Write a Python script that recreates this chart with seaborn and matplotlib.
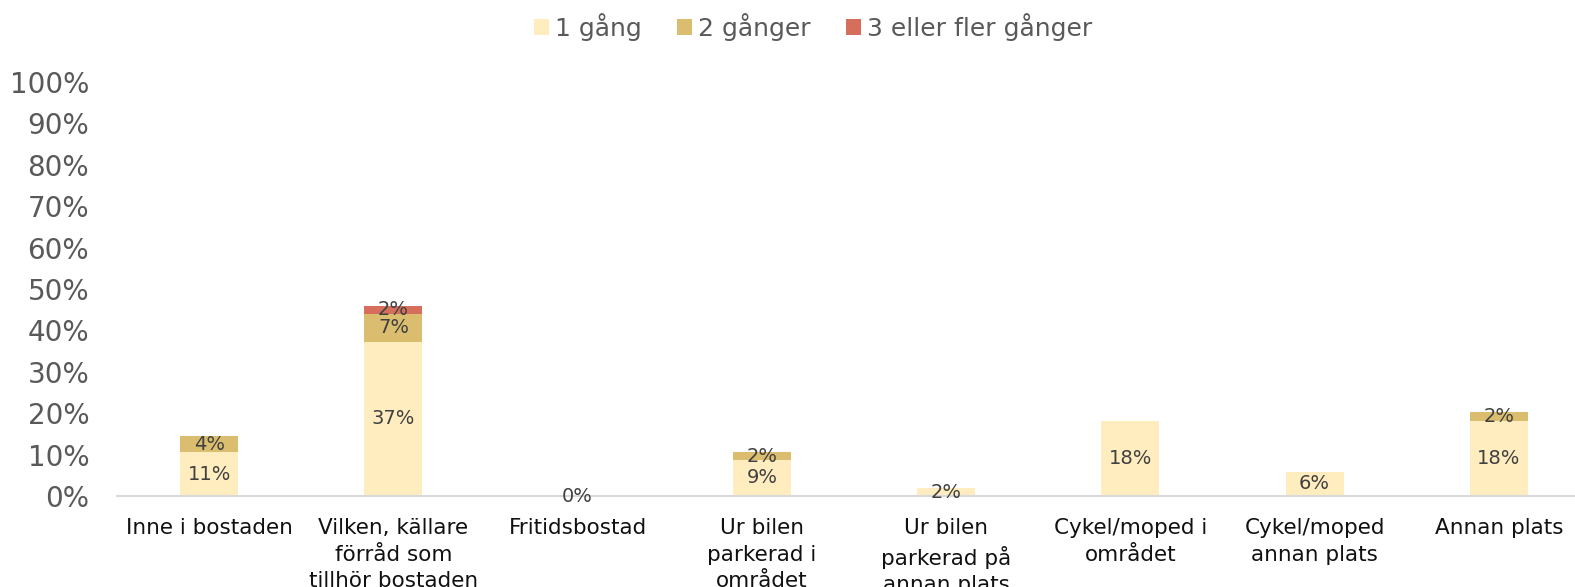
import matplotlib
matplotlib.use("Agg")
import matplotlib.pyplot as plt
import seaborn as sns
import pandas as pd
import numpy as np
from matplotlib.patches import Patch

categories = [
    "Inne i bostaden",
    "Vilken, källare\nförråd som\ntillhör bostaden",
    "Fritidsbostad",
    "Ur bilen\nparkerad i\nområdet",
    "Ur bilen\nparkerad på\nannan plats",
    "Cykel/moped i\nområdet",
    "Cykel/moped\nannan plats",
    "Annan plats",
]
series_names = ["1 gång", "2 gånger", "3 eller fler gånger"]
one_time = [10.6, 37.2, 0.0, 8.7, 1.9, 18.1, 5.8, 18.1]
two_times = [3.9, 6.8, 0.0, 1.9, 0.0, 0.0, 0.0, 2.1]
three_plus = [0.0, 1.9, 0.0, 0.0, 0.0, 0.0, 0.0, 0.0]
colors = ["#FFEDC0", "#DBBD6F", "#D56F5B"]
yticks = [0, 10, 20, 30, 40, 50, 60, 70, 80, 90, 100]

sns.set_theme(style="white")
plt.rcParams["font.family"] = ["DejaVu Sans"]

W, H = 1575, 587
fig = plt.figure(figsize=(W / 100, H / 100), dpi=100)
ax = fig.add_axes([117 / W, 1 - 496 / H, (1591 - 117) / W, (496 - 82) / H])

one = np.array(one_time)
two = np.array(two_times)
three = np.array(three_plus)
cum = [one, one + two, one + two + three]

order = [2, 1, 0]
for i in order:
    df = pd.DataFrame({"cat": categories, "val": cum[i]})
    sns.barplot(data=df, x="cat", y="val", color=colors[i], width=0.315,
                saturation=1, ax=ax, order=categories, errorbar=None,
                linewidth=0, edgecolor="none")

# labels
vals = [one, two, three]
for s in range(3):
    base = cum[s] - vals[s]
    for k in range(len(categories)):
        v = vals[s][k]
        if v > 0 or (s == 0):
            y = base[k] + v / 2
            ax.text(k, y, f"{round(v):.0f}%", ha="center", va="center",
                    fontsize=14, color="#404040")

ax.set_xlim(-0.5, len(categories) - 0.5)
ax.set_ylim(0, 100)
ax.set_yticks(yticks)
ax.set_yticklabels([f"{t}%" for t in yticks], fontsize=20, color="#595959")
ax.set_xlabel("")
ax.set_ylabel("")
ax.tick_params(axis="y", length=0, pad=20)
ax.tick_params(axis="x", length=0, pad=16)
for lab in ax.get_xticklabels():
    lab.set_fontsize(15.5)
    lab.set_color("#111111")
    lab.set_linespacing(1.4)
for sp in ["top", "right", "left"]:
    ax.spines[sp].set_visible(False)
ax.spines["bottom"].set_color("#D9D9D9")
ax.spines["bottom"].set_linewidth(1.5)
ax.grid(False)

handles = [Patch(facecolor=c, edgecolor="none") for c in colors]
fig.legend(handles, series_names, loc="center", bbox_to_anchor=(813 / W, 1 - 27 / H),
           ncol=3, frameon=False, fontsize=18, handlelength=0.6, handleheight=0.6,
           handletextpad=0.25, columnspacing=1.4, labelcolor="#595959")

fig.savefig("out.png", dpi=100)
